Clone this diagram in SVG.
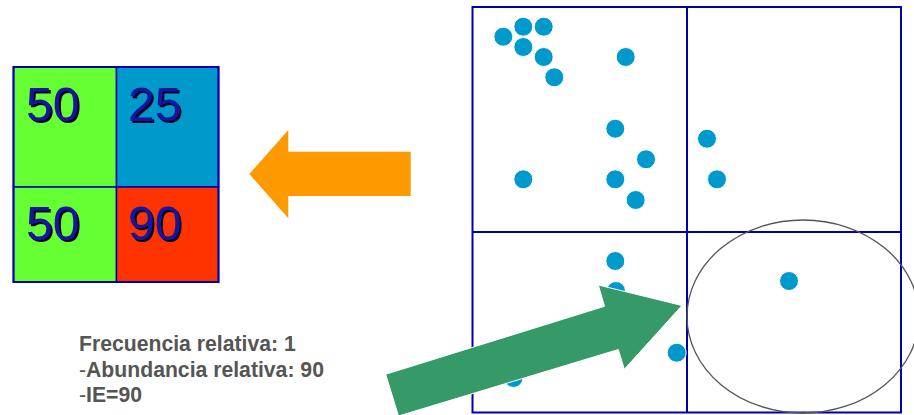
<svg xmlns="http://www.w3.org/2000/svg" width="914" height="415" viewBox="0 0 914 415">
<style>
.cell{stroke:#0000aa;stroke-width:1.5}
.num{font-family:"Liberation Sans",Arial,sans-serif;font-size:48px;fill:#16169c;filter:url(#shadow)}
.grid{fill:none;stroke:#0000aa;stroke-width:2}
.dot{fill:#0099cc;stroke:#ffffff;stroke-width:1}
.lbl{font-family:"Liberation Sans",Arial,sans-serif;font-size:21.2px;font-weight:bold;fill:#555555}
</style>
<defs>
  <filter id="shadow" x="-10%" y="-10%" width="130%" height="130%">
    <feDropShadow dx="2" dy="2" stdDeviation="0.3" flood-color="#000022" flood-opacity="1"/>
  </filter>
</defs>
<rect width="914" height="415" fill="#ffffff"/>
<g id="matrix">
  <rect class="cell" x="13.5" y="67" width="103" height="120" fill="#66ff33"/>
  <rect class="cell" x="116.5" y="67" width="102" height="120" fill="#0099cc"/>
  <rect class="cell" x="13.5" y="187" width="103" height="95" fill="#66ff33"/>
  <rect class="cell" x="116.5" y="187" width="102" height="95" fill="#ff3300"/>
  <rect x="13.5" y="67" width="205" height="215" fill="none" stroke="#0000aa" stroke-width="2"/>
  <text class="num" x="26" y="121">50</text>
  <text class="num" x="128" y="121">25</text>
  <text class="num" x="26" y="239.5">50</text>
  <text class="num" x="128" y="239.5">90</text>
</g>
<g id="orange-arrow">
  <polygon points="249.3,174 288.3,130 288.3,151.7 410.7,151.7 410.7,196 288.3,196 288.3,218.3" fill="#ff9900"/>
</g>
<g id="plot">
  <rect class="grid" x="472.5" y="7" width="428.5" height="405.5"/>
  <line class="grid" x1="687" y1="7" x2="687" y2="412.5"/>
  <line class="grid" x1="472.5" y1="232" x2="901" y2="232"/>
</g>
<g id="dots">
  <circle class="dot" cx="503.3" cy="36.7" r="9.5"/>
  <circle class="dot" cx="523.3" cy="26.7" r="9.5"/>
  <circle class="dot" cx="543.7" cy="26.7" r="9.5"/>
  <circle class="dot" cx="523.3" cy="47" r="9.5"/>
  <circle class="dot" cx="543.7" cy="57" r="9.5"/>
  <circle class="dot" cx="554.3" cy="77.3" r="9.5"/>
  <circle class="dot" cx="625.7" cy="57" r="9.5"/>
  <circle class="dot" cx="615.3" cy="128.7" r="9.5"/>
  <circle class="dot" cx="646" cy="159.3" r="9.5"/>
  <circle class="dot" cx="523.3" cy="179.3" r="9.5"/>
  <circle class="dot" cx="615.3" cy="179.3" r="9.5"/>
  <circle class="dot" cx="635.7" cy="200" r="9.5"/>
  <circle class="dot" cx="707" cy="138.7" r="9.5"/>
  <circle class="dot" cx="717" cy="179.3" r="9.5"/>
  <circle class="dot" cx="615.3" cy="261" r="9.5"/>
  <circle class="dot" cx="616" cy="291" r="9.5"/>
  <circle class="dot" cx="513.5" cy="378" r="9.5"/>
  <circle class="dot" cx="676.7" cy="352.7" r="9.5"/>
  <circle class="dot" cx="789" cy="281" r="9.5"/>
</g>
<g id="selection-circle">
  <ellipse cx="803" cy="316.5" rx="116" ry="96.5" fill="none" stroke="#555555" stroke-width="1.3"/>
</g>
<g id="connectors">
  <polygon points="385.7,374.3 604.5,306.3 598.3,285 682,305.5 624.3,369.3 618.3,349.5 398.5,416" fill="#359a68" stroke="#ffffff" stroke-width="1"/>
</g>
<g id="label">
  <text class="lbl" x="79" y="350.5">Frecuencia relativa: 1</text>
  <text class="lbl" x="79" y="376.5"><tspan font-weight="normal">-</tspan>Abundancia relativa: 90</text>
  <text class="lbl" x="79" y="402"><tspan font-weight="normal">-</tspan>IE=90</text>
</g>
</svg>
